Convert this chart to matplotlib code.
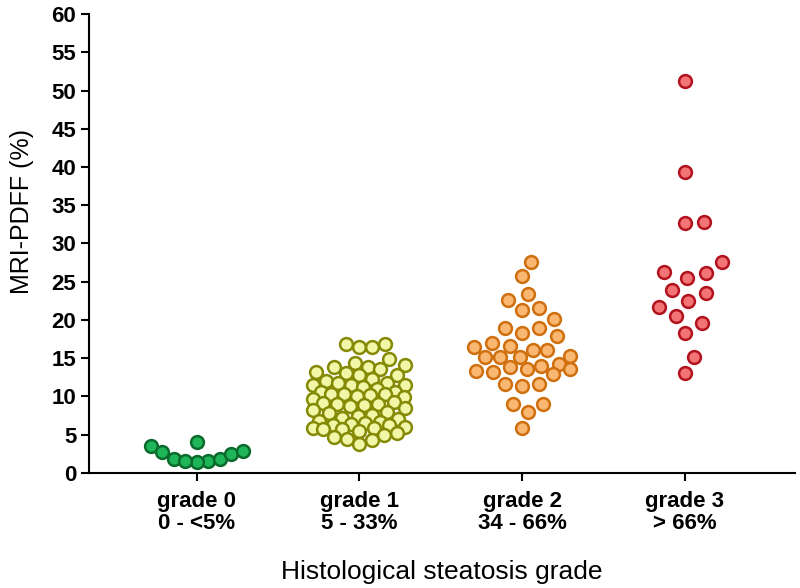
import numpy as np
import matplotlib
matplotlib.use('Agg')
import matplotlib.pyplot as plt

plt.rcParams['font.family'] = ['Liberation Sans', 'DejaVu Sans']

# Data (MRI-PDFF %)
categories = ['grade 0\n0 - <5%', 'grade 1\n5 - 33%', 'grade 2\n34 - 66%', 'grade 3\n> 66%']
grade0 = [3.5, 2.65, 1.85, 1.5, 1.35, 1.55, 1.8, 2.4, 2.9, 4.0]
grade1 = [16.9, 16.5, 16.5, 16.8, 14.9, 14.4, 14.1, 13.9, 13.9, 13.6, 13.2, 13.1,
          12.85, 12.8, 12.2, 12.0, 11.8, 11.7, 11.5, 11.5, 11.5, 11.2, 10.9, 10.6,
          10.5, 10.3, 10.3, 10.3, 10.2, 10.1, 9.9, 9.6, 9.2, 9.1, 9.0, 9.0, 8.8,
          8.76, 8.45, 8.2, 7.9, 7.8, 7.6, 7.4, 7.15, 7.0, 6.8, 6.6, 6.5, 6.4, 6.3,
          6.3, 6.0, 5.8, 5.8, 5.7, 5.7, 5.5, 5.2, 5.0, 4.7, 4.4, 4.3, 3.7]
grade2 = [27.6, 25.7, 23.4, 22.6, 21.3, 21.5, 20.1, 18.3, 19.0, 19.0, 17.9, 16.1,
          17.0, 16.5, 16.6, 16.1, 15.2, 15.1, 15.2, 15.3, 14.0, 13.9, 14.2, 13.55,
          13.3, 12.9, 13.2, 13.55, 11.6, 11.4, 11.6, 9.0, 9.0, 7.9, 5.8]
grade3 = [51.2, 39.3, 32.7, 32.85, 27.6, 26.1, 25.45, 26.2, 23.5, 23.9, 21.7, 22.5,
          20.5, 19.6, 18.3, 15.2, 13.0]
groups = [grade0, grade1, grade2, grade3]

fill_colors = ['#1fb559', '#f2f7a8', '#f9b772', '#f27474']
edge_colors = ['#0b6b2c', '#858a05', '#cf6f0e', '#b3121f']
# swarm spacing (px) and max half width (px) per group
min_dist = [11.5, 13, 17, 19]
max_half = [60, 46, 48, 60]

fig = plt.figure(figsize=(8, 5.88), dpi=100)
ax = fig.add_axes([0.111, 0.196, 0.883, 0.78])
ax.set_xlim(-0.665, 3.68)
ax.set_ylim(0, 60)

# pixel scale of the axes, used to lay out the dots
bbox = ax.get_window_extent()
px_x = bbox.width / (ax.get_xlim()[1] - ax.get_xlim()[0])
px_y = bbox.height / (ax.get_ylim()[1] - ax.get_ylim()[0])


def swarm_offsets(values, dist, half_width):
    ys = np.array(values) * px_y
    offs = np.zeros(len(values))
    placed = []
    cands = [0.0]
    for k in range(1, int(half_width) + 1):
        cands += [float(k), float(-k)]
    for i in np.argsort(values):
        chosen = None
        best, best_d = 0.0, -1
        for c in cands:
            if placed:
                d = min(np.hypot(c - px, ys[i] - py) for px, py in placed)
            else:
                d = np.inf
            if d >= dist:
                chosen = c
                break
            if d > best_d:
                best, best_d = c, d
        if chosen is None:
            chosen = best
        offs[i] = chosen
        placed.append((chosen, ys[i]))
    return offs / px_x


def row_offsets(values, bin_h, step):
    # Prism-like rows: lowest value in the middle, the rest alternating outwards
    vals = np.array(values)
    offs = np.zeros(len(vals))
    bins = np.floor(vals / bin_h)
    for b in np.unique(bins):
        idx = np.where(bins == b)[0]
        idx = idx[np.argsort(vals[idx])]
        for k, j in enumerate(idx):
            side = 1 if k % 2 else -1
            offs[j] = side * ((k + 1) // 2) * step
    return offs / px_x


for i, vals in enumerate(groups):
    if i == 0:
        xs = i + row_offsets(vals, 3.8, min_dist[i])
    else:
        xs = i + swarm_offsets(vals, min_dist[i], max_half[i])
    ax.scatter(xs, vals, s=85, facecolor=fill_colors[i], edgecolor=edge_colors[i],
               linewidth=1.8, zorder=3, clip_on=False)

for side in ['top', 'right']:
    ax.spines[side].set_visible(False)
for side in ['left', 'bottom']:
    ax.spines[side].set_linewidth(1.5)

ax.set_yticks(np.arange(0, 61, 5))
ax.set_xticks(range(len(categories)))
ax.set_xticklabels(categories, fontsize=16, fontweight='bold', linespacing=1.05)
ax.tick_params(axis='y', labelsize=16, width=1.5, length=6, direction='out', pad=3)
ax.tick_params(axis='x', width=1.5, length=6, direction='out', pad=7)
for lab in ax.get_yticklabels():
    lab.set_fontweight('bold')

ax.set_ylabel('MRI-PDFF (%)', fontsize=18)
ax.yaxis.set_label_coords(-0.078, 0.57)
ax.set_xlabel('Histological steatosis grade', fontsize=19)
ax.xaxis.set_label_coords(0.5, -0.19)

fig.savefig('out.png', dpi=100)
